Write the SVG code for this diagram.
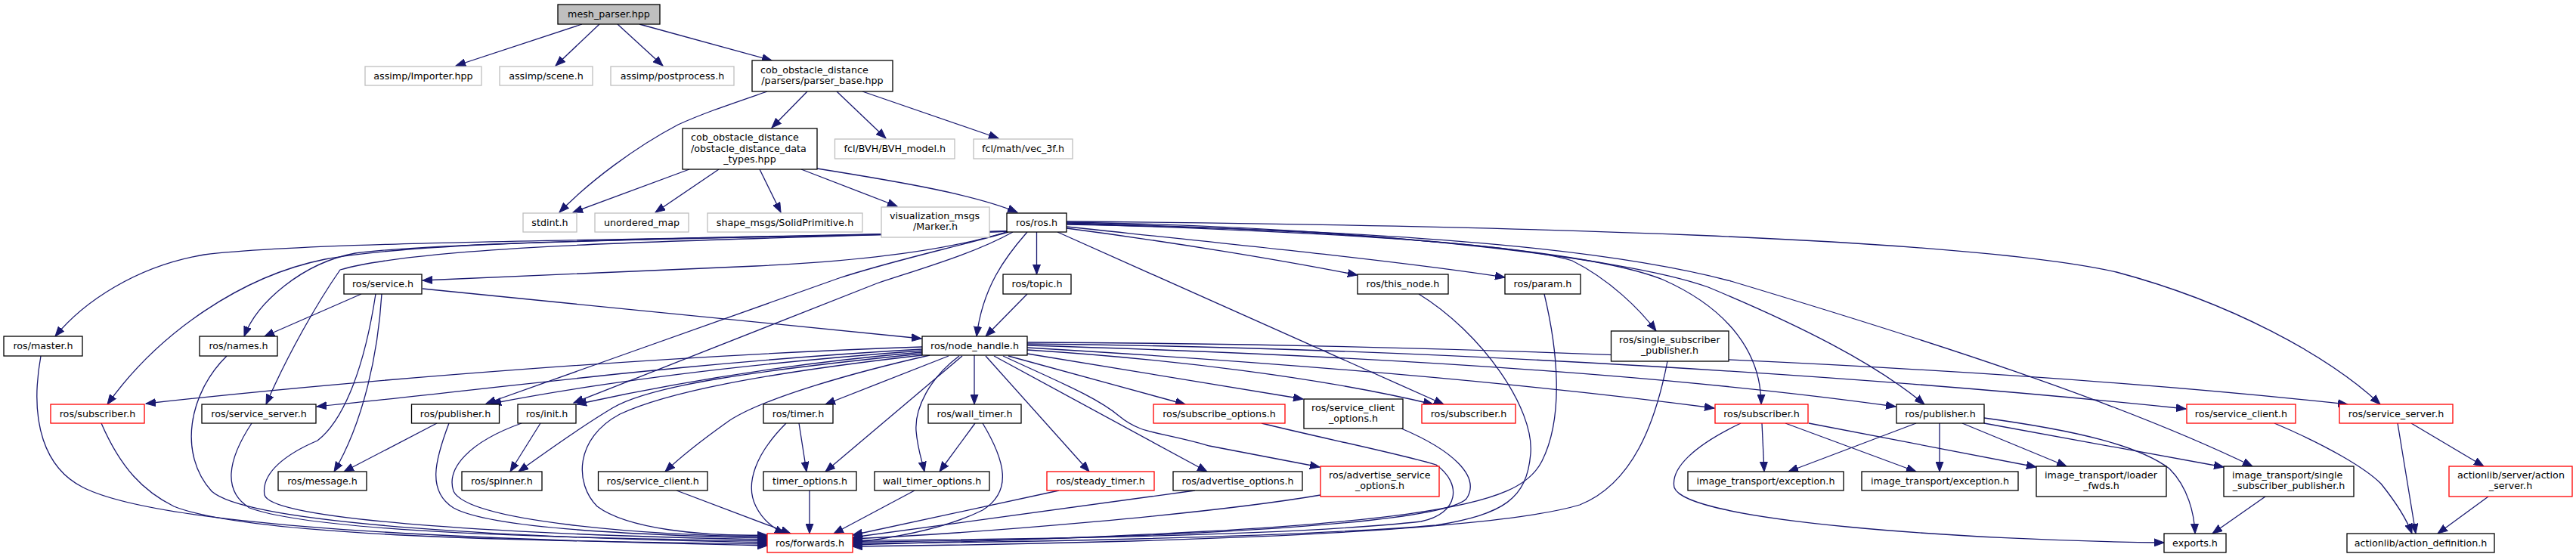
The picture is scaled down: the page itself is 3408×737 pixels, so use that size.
<svg xmlns="http://www.w3.org/2000/svg" width="3408" height="737" viewBox="0 0 3408 737">
<defs>
<marker id="a" markerWidth="14" markerHeight="11" refX="13" refY="5.5" orient="auto" markerUnits="userSpaceOnUse"><path d="M0,0.5 L13,5.5 L0,10.5 z" fill="#191970" stroke="#191970" stroke-width="1"/></marker>
</defs>
<style>
rect{fill:#fff;stroke:#000;stroke-width:1.3}
.g rect{stroke:#bfbfbf}
.r rect{stroke:#ff0000}
.root rect{fill:#bfbfbf}
text{font-family:"DejaVu Sans",sans-serif;font-size:12.7px;fill:#000}
.c{text-anchor:middle}
#edges path{fill:none;stroke:#191970;stroke-width:1.3;marker-end:url(#a)}
</style>
<rect x="0" y="0" width="3408" height="737" style="fill:#fff;stroke:none"/>
<g id="edges">
<path d="M770,32 L603,87"/>
<path d="M793,32 L735,87"/>
<path d="M817,32 L877,87"/>
<path d="M846,32 L1021,80"/>
<path d="M1015,121 C960,140 930,150 897,165 C840,195 780,240 740,281"/>
<path d="M1068,121 L1021,169"/>
<path d="M1107,121 L1172,183"/>
<path d="M1141,121 L1321,183"/>
<path d="M912,224 L758,281"/>
<path d="M951,224 L867,281"/>
<path d="M1005,224 L1033,281"/>
<path d="M1060,224 L1187,273"/>
<path d="M1081,223 C1200,242 1290,258 1346,281"/>
<path d="M1334,306 C900,318 420,318 270,337 C180,352 110,400 73,445"/>
<path d="M1334,306 C1260,330 1150,345 1000,352 C800,360 650,367 559,371"/>
<path d="M1334,306 C1000,316 600,318 470,335 C400,348 340,400 323,445"/>
<path d="M1334,306 C900,316 560,318 430,343 C320,365 210,440 142,535"/>
<path d="M1334,306 C900,318 560,325 450,357 C420,400 380,470 352,535"/>
<path d="M1334,307 C1260,328 1180,345 1110,368 C950,425 800,478 643,534"/>
<path d="M1340,307 C1290,335 1220,355 1160,375 C1030,425 900,478 759,533"/>
<path d="M1371.5,307 L1371.5,363"/>
<path d="M1359,307 C1330,340 1300,380 1292,445"/>
<path d="M1411,302 C1550,320 1700,345 1796,364"/>
<path d="M1411,300 C1600,320 1850,345 1991,367"/>
<path d="M1411,296 C1700,305 2000,320 2080,345 C2130,370 2170,410 2191,438"/>
<path d="M1399,307 L1910,535"/>
<path d="M1411,295 C1800,305 2100,330 2200,370 C2290,410 2330,470 2330,535"/>
<path d="M1411,294 C1800,300 2150,340 2260,380 C2380,430 2480,480 2546,535"/>
<path d="M1411,297 C1900,305 2150,335 2290,372 C2550,450 2800,530 2980,617"/>
<path d="M1411,293 C2000,298 2600,315 2800,360 C2950,400 3080,470 3149,535"/>
<path d="M478,389 L350,445"/>
<path d="M505,389 C500,470 480,560 442,624"/>
<path d="M559,382 L1219,448"/>
<path d="M1359,389 L1304,445"/>
<path d="M1220,459 C900,470 500,500 193,534"/>
<path d="M1220,462 C900,480 650,515 419,538"/>
<path d="M1220,464 C1000,480 800,505 650,534"/>
<path d="M1220,466 C1050,480 900,505 763,535"/>
<path d="M1220,468 C1000,490 860,510 810,540 C760,570 720,600 686,624"/>
<path d="M1220,470 C1000,495 880,520 820,548 C760,580 760,640 790,670 C830,700 930,710 1015,708"/>
<path d="M1230,470 C1120,495 1000,530 960,560 C925,585 900,605 880,624"/>
<path d="M1255,471 L1092,535"/>
<path d="M1273,471 L1092,624"/>
<path d="M1269,471 C1230,500 1210,540 1212,570 C1214,595 1220,610 1223,624"/>
<path d="M1289,470 L1289,535"/>
<path d="M1304,471 L1441,624"/>
<path d="M1315,471 L1597,624"/>
<path d="M1327,471 C1400,505 1450,525 1480,550 C1510,575 1530,570 1600,590 L1746,618"/>
<path d="M1334,471 L1568,535"/>
<path d="M1359,468 L1724,528"/>
<path d="M1359,463 C1550,475 1750,500 1896,535"/>
<path d="M1359,460 C1700,480 2000,505 2268,540"/>
<path d="M1359,457 C1800,470 2200,495 2508,538"/>
<path d="M1359,455 C1900,460 2500,500 2892,541"/>
<path d="M1359,453 C1900,455 2600,480 3106,535"/>
<path d="M54,471 C38,560 60,620 110,645 C200,690 500,712 1015,722"/>
<path d="M134,560 C160,620 190,650 230,670 C330,710 700,716 1015,720"/>
<path d="M300,471 C250,520 235,600 280,650 C330,695 700,712 1015,718"/>
<path d="M333,560 C300,610 295,650 330,672 C420,705 750,712 1015,716"/>
<path d="M497,389 C480,500 450,560 420,583 C380,600 345,625 350,655 C360,690 700,708 1015,714"/>
<path d="M594,560 C575,610 565,650 600,672 C650,700 850,708 1015,712"/>
<path d="M690,560 C620,585 590,620 600,650 C620,690 850,708 1015,710"/>
<path d="M895,649 L1046,706"/>
<path d="M1040,560 C1000,600 985,640 1000,670 C1010,690 1025,700 1038,706"/>
<path d="M1071,649 L1071,706"/>
<path d="M1210,649 L1103,706"/>
<path d="M1300,560 C1330,610 1340,650 1300,675 C1250,700 1180,712 1128,718"/>
<path d="M1401,649 L1128,708"/>
<path d="M1581,649 L1128,711"/>
<path d="M1747,655 C1600,680 1300,705 1128,713"/>
<path d="M1669,560 C1750,580 1850,600 1900,615 C1935,640 1930,680 1880,690 C1700,710 1300,714 1128,715"/>
<path d="M1854,567 C1920,595 1960,630 1940,660 C1900,700 1400,716 1128,717"/>
<path d="M1877,389 C1960,440 2030,540 2025,600 C2020,660 1990,680 1900,695 C1700,712 1300,718 1128,719"/>
<path d="M2043,389 C2060,460 2070,550 2040,610 C2010,670 1900,700 1128,721"/>
<path d="M2206,478 C2190,560 2160,640 2090,668 C1950,710 1400,720 1128,723"/>
<path d="M1290,560 L1243,624"/>
<path d="M1057,560 L1067,624"/>
<path d="M715,560 L675,624"/>
<path d="M578,560 L455,624"/>
<path d="M2331,560 L2334,624"/>
<path d="M2362,560 L2535,624"/>
<path d="M2393,560 L2694,618"/>
<path d="M2303,560 C2240,590 2210,620 2215,645 C2230,690 2600,715 2863,718"/>
<path d="M2535,560 L2366,624"/>
<path d="M2566,560 L2566,624"/>
<path d="M2596,560 L2734,617"/>
<path d="M2625,560 L2942,618"/>
<path d="M2625,553 C2750,570 2830,590 2870,620 C2895,645 2903,680 2904,706"/>
<path d="M2997,657 L2927,706"/>
<path d="M3009,560 C3080,590 3130,620 3150,640 C3170,665 3185,690 3191,706"/>
<path d="M3172,560 L3196,706"/>
<path d="M3190,560 L3286,617"/>
<path d="M3292,657 L3225,706"/>
</g>
<g id="n_root" class="root"><rect x="738" y="6" width="135" height="26"/><text class="c" x="805.5" y="23">mesh_parser.hpp</text></g>
<g id="n_importer" class="g"><rect x="483" y="88" width="154" height="25"/><text class="c" x="560" y="104.5">assimp/Importer.hpp</text></g>
<g id="n_scene" class="g"><rect x="661" y="88" width="123" height="25"/><text class="c" x="722.5" y="104.5">assimp/scene.h</text></g>
<g id="n_postprocess" class="g"><rect x="808" y="88" width="163" height="25"/><text class="c" x="889.5" y="104.5">assimp/postprocess.h</text></g>
<g id="n_parser_base"><rect x="995" y="80" width="186" height="41"/><text x="1006" y="96.7">cob_obstacle_distance</text><text class="c" x="1088" y="110.7">/parsers/parser_base.hpp</text></g>
<g id="n_data_types"><rect x="903" y="170" width="178" height="54"/><text x="914" y="186">cob_obstacle_distance</text><text x="914" y="200.5">/obstacle_distance_data</text><text class="c" x="992" y="215">_types.hpp</text></g>
<g id="n_bvh" class="g"><rect x="1104.5" y="184" width="158.5" height="26"/><text class="c" x="1183.75" y="201">fcl/BVH/BVH_model.h</text></g>
<g id="n_vec3f" class="g"><rect x="1288" y="184" width="131" height="26"/><text class="c" x="1353.5" y="201">fcl/math/vec_3f.h</text></g>
<g id="n_stdint" class="g"><rect x="692" y="282" width="71" height="25"/><text class="c" x="727.5" y="298.5">stdint.h</text></g>
<g id="n_unordered_map" class="g"><rect x="787" y="282" width="124" height="25"/><text class="c" x="849" y="298.5">unordered_map</text></g>
<g id="n_solid" class="g"><rect x="936" y="282" width="205" height="25"/><text class="c" x="1038.5" y="298.5">shape_msgs/SolidPrimitive.h</text></g>
<g id="n_marker" class="g"><rect x="1166" y="274" width="143" height="40"/><text x="1177" y="290">visualization_msgs</text><text class="c" x="1237.5" y="304">/Marker.h</text></g>
<g id="n_ros"><rect x="1332" y="282" width="79" height="25"/><text class="c" x="1371.5" y="298.5">ros/ros.h</text></g>
<g id="n_service"><rect x="455" y="363" width="103" height="26"/><text class="c" x="506.5" y="380">ros/service.h</text></g>
<g id="n_topic"><rect x="1327" y="363" width="90" height="26"/><text class="c" x="1372" y="380">ros/topic.h</text></g>
<g id="n_this_node"><rect x="1796" y="363" width="120" height="26"/><text class="c" x="1856" y="380">ros/this_node.h</text></g>
<g id="n_param"><rect x="1991" y="363" width="100" height="26"/><text class="c" x="2041" y="380">ros/param.h</text></g>
<g id="n_master"><rect x="5" y="445" width="104" height="26"/><text class="c" x="57" y="462">ros/master.h</text></g>
<g id="n_names"><rect x="264" y="445" width="103" height="26"/><text class="c" x="315.5" y="462">ros/names.h</text></g>
<g id="n_node_handle"><rect x="1220" y="445" width="139" height="25"/><text class="c" x="1289.5" y="461.5">ros/node_handle.h</text></g>
<g id="n_ros_ssp"><rect x="2131.5" y="438" width="155.5" height="40"/><text x="2142" y="454">ros/single_subscriber</text><text class="c" x="2209" y="468">_publisher.h</text></g>
<g id="n_sub_l" class="r"><rect x="67" y="535" width="124" height="25"/><text class="c" x="129" y="551.5">ros/subscriber.h</text></g>
<g id="n_sserv_l"><rect x="267" y="535" width="151" height="25"/><text class="c" x="342.5" y="551.5">ros/service_server.h</text></g>
<g id="n_pub_l"><rect x="544.5" y="535" width="116" height="25"/><text class="c" x="602.5" y="551.5">ros/publisher.h</text></g>
<g id="n_init"><rect x="685" y="535" width="77" height="25"/><text class="c" x="723.5" y="551.5">ros/init.h</text></g>
<g id="n_timer"><rect x="1010" y="535" width="92" height="25"/><text class="c" x="1056" y="551.5">ros/timer.h</text></g>
<g id="n_wall_timer"><rect x="1228" y="535" width="123" height="25"/><text class="c" x="1289.5" y="551.5">ros/wall_timer.h</text></g>
<g id="n_subscribe_opts" class="r"><rect x="1526" y="535" width="174" height="25"/><text class="c" x="1613" y="551.5">ros/subscribe_options.h</text></g>
<g id="n_sc_opts"><rect x="1725" y="528" width="131" height="39"/><text x="1735" y="543.5">ros/service_client</text><text class="c" x="1790.5" y="557.5">_options.h</text></g>
<g id="n_sub_m" class="r"><rect x="1881" y="535" width="124" height="25"/><text class="c" x="1943" y="551.5">ros/subscriber.h</text></g>
<g id="n_sub_r" class="r"><rect x="2269" y="535" width="123" height="25"/><text class="c" x="2330.5" y="551.5">ros/subscriber.h</text></g>
<g id="n_pub_r"><rect x="2509" y="535" width="116" height="25"/><text class="c" x="2567" y="551.5">ros/publisher.h</text></g>
<g id="n_sclient_r" class="r"><rect x="2893" y="535" width="144" height="25"/><text class="c" x="2965" y="551.5">ros/service_client.h</text></g>
<g id="n_sserv_r" class="r"><rect x="3095" y="535" width="150" height="25"/><text class="c" x="3170" y="551.5">ros/service_server.h</text></g>
<g id="n_message"><rect x="368" y="624" width="117" height="25"/><text class="c" x="426.5" y="640.5">ros/message.h</text></g>
<g id="n_spinner"><rect x="611" y="624" width="106" height="25"/><text class="c" x="664" y="640.5">ros/spinner.h</text></g>
<g id="n_sclient_l"><rect x="791.5" y="624" width="144.5" height="25"/><text class="c" x="863.75" y="640.5">ros/service_client.h</text></g>
<g id="n_timer_opts"><rect x="1010" y="624" width="123" height="25"/><text class="c" x="1071.5" y="640.5">timer_options.h</text></g>
<g id="n_wt_opts"><rect x="1157" y="624" width="152" height="25"/><text class="c" x="1233" y="640.5">wall_timer_options.h</text></g>
<g id="n_steady" class="r"><rect x="1385" y="624" width="142" height="25"/><text class="c" x="1456" y="640.5">ros/steady_timer.h</text></g>
<g id="n_adv_opts"><rect x="1552" y="624" width="171" height="25"/><text class="c" x="1637.5" y="640.5">ros/advertise_options.h</text></g>
<g id="n_adv_serv" class="r"><rect x="1747" y="617" width="157" height="40"/><text x="1758" y="633">ros/advertise_service</text><text class="c" x="1825.5" y="647">_options.h</text></g>
<g id="n_exc1"><rect x="2233" y="624" width="206" height="25"/><text class="c" x="2336" y="640.5">image_transport/exception.h</text></g>
<g id="n_exc2"><rect x="2463" y="624" width="207" height="25"/><text class="c" x="2566.5" y="640.5">image_transport/exception.h</text></g>
<g id="n_loader"><rect x="2694" y="617" width="172" height="40"/><text x="2705" y="633">image_transport/loader</text><text class="c" x="2780" y="647">_fwds.h</text></g>
<g id="n_it_ssp"><rect x="2942" y="617" width="172" height="40"/><text x="2953" y="633">image_transport/single</text><text class="c" x="3028" y="647">_subscriber_publisher.h</text></g>
<g id="n_action_server" class="r"><rect x="3240" y="617" width="163" height="40"/><text x="3251" y="633">actionlib/server/action</text><text class="c" x="3321.5" y="647">_server.h</text></g>
<g id="n_forwards" class="r"><rect x="1015" y="706" width="113" height="25"/><text class="c" x="1071.5" y="722.5">ros/forwards.h</text></g>
<g id="n_exports"><rect x="2863" y="706" width="82" height="25"/><text class="c" x="2904" y="722.5">exports.h</text></g>
<g id="n_action_def"><rect x="3105" y="706" width="195" height="25"/><text class="c" x="3202.5" y="722.5">actionlib/action_definition.h</text></g>
</svg>
